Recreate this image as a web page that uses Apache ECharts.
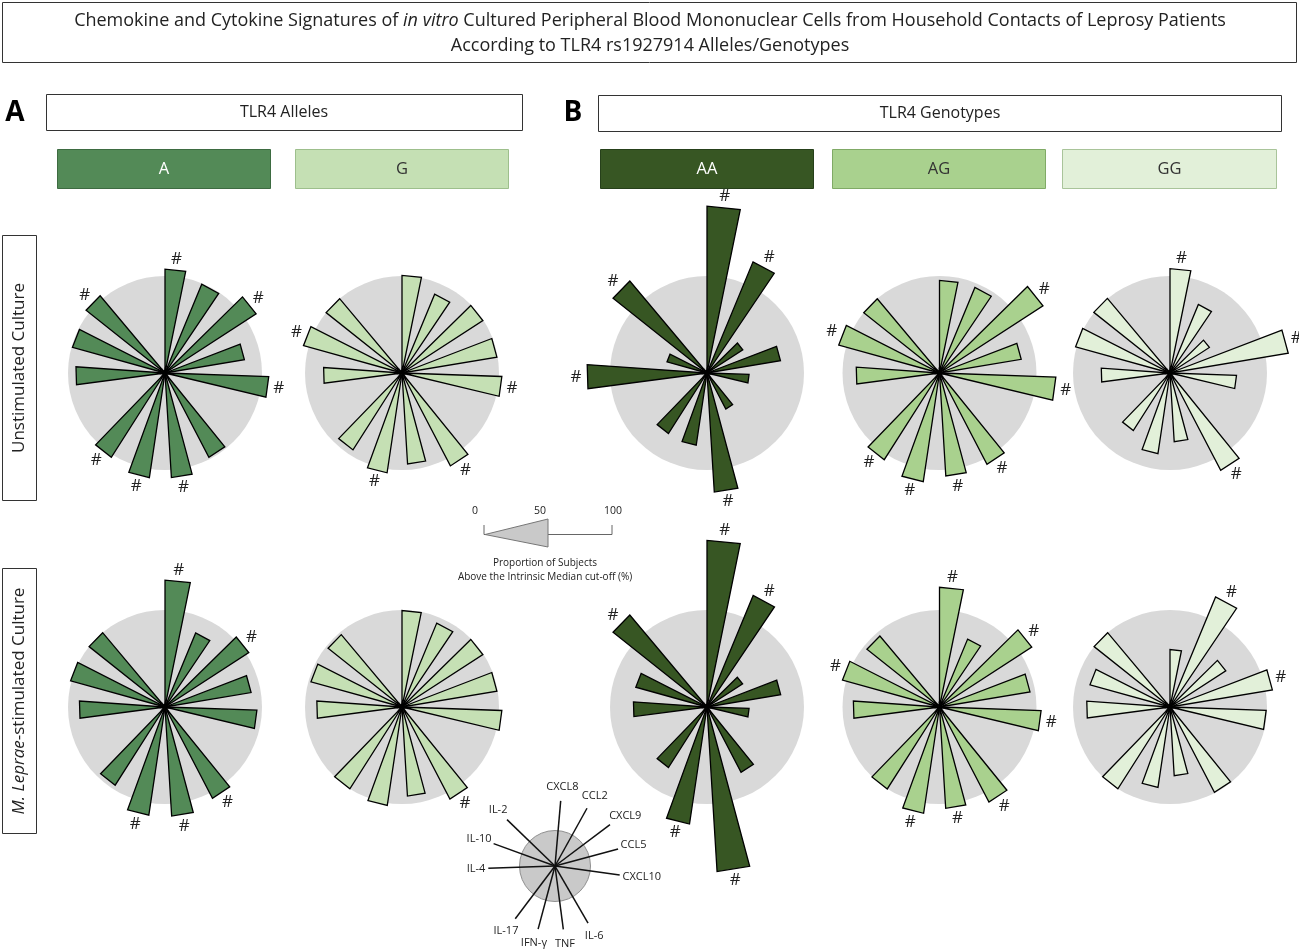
<!DOCTYPE html>
<html>
<head>
<meta charset="utf-8">
<script src="https://cdn.jsdelivr.net/npm/echarts@6/dist/echarts.min.js"></script>
<style>
  html, body { margin: 0; padding: 0; background: #fff; }
  #main { width: 1299px; height: 950px; }
</style>
</head>
<body>
<div id="main"></div>
<script>
// ---------------- DATA ----------------
const markers = ['CXCL8', 'CCL2', 'CXCL9', 'CCL5', 'CXCL10', 'IL-6', 'TNF', 'IFN-γ', 'IL-17', 'IL-4', 'IL-10', 'IL-2'];
// start angle (deg, clockwise from north) of each wedge
const wedgeStart = [0, 22.5, 45.5, 69, 92, 141, 165, 188.5, 212.5, 262.5, 285.5, 308.5];
const cutoff = 50;   // grey circle = 50 %

// Proportion of subjects above the intrinsic median cut-off (%)
const unstimA  = [53.5, 49.5, 56, 41.5, 53.5, 49, 54, 54.5, 51.5, 46, 49.5, 52];
const unstimG  = [50.3, 44, 49.7, 49.6, 51.5, 54, 47, 52, 47, 40.5, 52.7, 50];
const unstimAA = [86, 62, 22, 38.4, 21.7, 21, 61.5, 37.6, 37, 61.9, 21.4, 61.9];
const unstimAG = [47.7, 47.7, 63.6, 42.7, 60, 53, 53.2, 56.6, 53, 43, 53.9, 49.9];
const unstimGG = [53.8, 38.2, 24.2, 61.8, 34.3, 56.6, 35.5, 42, 35.2, 35.5, 50.5, 50.2];
const mlepA  = [65.4, 41.3, 51.5, 45, 47.4, 53, 56.3, 56.4, 47.8, 44.2, 50.5, 50];
const mlepG  = [49.7, 46.8, 49.7, 49.6, 51.5, 53.5, 46, 51.3, 50, 44, 48.7, 48.7];
const mlepAA = [85.9, 62.2, 21.9, 38.5, 21.7, 38, 85, 61, 37, 38, 38.1, 61.9];
const mlepAG = [61.7, 37.9, 56.7, 47.3, 52.4, 55.2, 52.3, 55.4, 50.1, 44.5, 51.9, 47.8];
const mlepGG = [29.6, 61.4, 34.3, 53.5, 49.6, 49.6, 35.5, 41.9, 50, 43, 42.8, 50];

// significance marks (#)
const unstimAHash  = [1,0,1,0,1,0,1,1,1,0,0,1];
const unstimGHash  = [0,0,0,0,1,1,0,1,0,0,1,0];
const unstimAAHash = [1,1,0,0,0,0,1,0,0,1,0,1];
const unstimAGHash = [0,0,1,0,1,1,1,1,1,0,1,0];
const unstimGGHash = [1,0,0,1,0,1,0,0,0,0,0,0];
const mlepAHash  = [1,0,1,0,0,1,1,1,0,0,0,0];
const mlepGHash  = [0,0,0,0,0,1,0,0,0,0,0,0];
const mlepAAHash = [1,1,0,0,0,0,1,1,0,0,0,1];
const mlepAGHash = [1,0,1,0,1,1,1,1,0,0,1,0];
const mlepGGHash = [0,1,0,1,0,0,0,0,0,0,0,0];

// key (legend) spokes
const keyAngle  = [5, 29, 53, 75, 98, 150, 172.5, 195, 217, 268, 290, 314];
const keyLength = [92, 93, 97, 92, 92, 93, 90, 92, 93, 94, 92, 94];

const groupLabels = ['A', 'G', 'AA', 'AG', 'GG'];
const scaleTicks = ['0', '50', '100'];

// ---------------- STYLE ----------------
const FONT = '"Open Sans", "DejaVu Sans", sans-serif';
const WEDGE = 11.5;
const R = 194;        // pixel radius for 100 %
const colors = { A: '#538a57', G: '#c5e0b4', AA: '#375623', AG: '#a9d18e', GG: '#e2f0d9' };
const borders = { A: '#3d6b41', G: '#9dbf8c', AA: '#26401a', AG: '#80aa66', GG: '#a9c49a' };
const textColors = { A: '#fff', G: '#333', AA: '#fff', AG: '#333', GG: '#333' };
const colX = [165, 402, 707, 939.5, 1170];
const rowY = [373, 707];

const charts = [
  { g: 'A',  row: 0, col: 0, v: unstimA,  h: unstimAHash },
  { g: 'G',  row: 0, col: 1, v: unstimG,  h: unstimGHash },
  { g: 'AA', row: 0, col: 2, v: unstimAA, h: unstimAAHash },
  { g: 'AG', row: 0, col: 3, v: unstimAG, h: unstimAGHash },
  { g: 'GG', row: 0, col: 4, v: unstimGG, h: unstimGGHash },
  { g: 'A',  row: 1, col: 0, v: mlepA,  h: mlepAHash },
  { g: 'G',  row: 1, col: 1, v: mlepG,  h: mlepGHash },
  { g: 'AA', row: 1, col: 2, v: mlepAA, h: mlepAAHash },
  { g: 'AG', row: 1, col: 3, v: mlepAG, h: mlepAGHash },
  { g: 'GG', row: 1, col: 4, v: mlepGG, h: mlepGGHash }
];

const measureCtx = document.createElement('canvas').getContext('2d');
function textWidth(str, size) {
  measureCtx.font = size + 'px ' + FONT;
  return measureCtx.measureText(str).width;
}

const polar = [], angleAxis = [], radiusAxis = [], series = [];

function circleRenderer(fill, stroke) {
  return function (params, api) {
    const c = api.coord([0, 0]);
    const e = api.coord([api.value(0), 0]);
    const r = Math.hypot(e[0] - c[0], e[1] - c[1]);
    return { type: 'circle', shape: { cx: c[0], cy: c[1], r: r },
             style: { fill: fill, stroke: stroke || null, lineWidth: stroke ? 1 : 0 } };
  };
}

function wedgeRenderer(fill) {
  return function (params, api) {
    const v = api.value(0), a = api.value(1), h = api.value(2);
    const c = api.coord([0, a]);
    const p1 = api.coord([v, a]);
    const p2 = api.coord([v, a + WEDGE]);
    const children = [{
      type: 'polygon', shape: { points: [c, p1, p2] },
      style: { fill: fill, stroke: '#000', lineWidth: 1.3, lineJoin: 'miter', miterLimit: 10 }
    }];
    if (h) {
      const pm = api.coord([v, a + WEDGE / 2]);
      const dx = pm[0] - c[0], dy = pm[1] - c[1];
      const L = Math.hypot(dx, dy) || 1;
      children.push({
        type: 'text', x: pm[0] + dx / L * 11, y: pm[1] + dy / L * 11,
        style: { text: '#', fill: '#222', fontSize: 17, fontFamily: FONT, align: 'center', verticalAlign: 'middle' }
      });
    }
    if (params.dataIndex === 0) {
      children.push({ type: 'circle', shape: { cx: c[0], cy: c[1], r: 3 }, style: { fill: '#000' } });
    }
    return { type: 'group', children: children };
  };
}

charts.forEach(function (ch, i) {
  polar.push({ center: [colX[ch.col], rowY[ch.row]], radius: R });
  angleAxis.push({ polarIndex: i, type: 'value', min: 0, max: 360, startAngle: 90, clockwise: true, show: false });
  radiusAxis.push({ polarIndex: i, type: 'value', min: 0, max: 100, show: false });
  series.push({ type: 'custom', coordinateSystem: 'polar', polarIndex: i, silent: true, z: 1,
                data: [[cutoff, 0]], renderItem: circleRenderer('#d9d9d9') });
  series.push({ type: 'custom', coordinateSystem: 'polar', polarIndex: i, silent: true, z: 2,
                data: ch.v.map(function (val, k) { return [val, wedgeStart[k], ch.h[k]]; }),
                renderItem: wedgeRenderer(colors[ch.g]) });
});

// key polar
const keyIdx = charts.length;
const KEYFONT = 11;
polar.push({ center: [555, 866], radius: 71 });
angleAxis.push({ polarIndex: keyIdx, type: 'value', min: 0, max: 360, startAngle: 90, clockwise: true, show: false });
radiusAxis.push({ polarIndex: keyIdx, type: 'value', min: 0, max: 100, show: false });
series.push({ type: 'custom', coordinateSystem: 'polar', polarIndex: keyIdx, silent: true, z: 1,
              data: [[cutoff, 0]], renderItem: circleRenderer('#c9c9c9', '#8f8f8f') });
series.push({
  type: 'custom', coordinateSystem: 'polar', polarIndex: keyIdx, silent: true, z: 2,
  data: keyLength.map(function (l, k) { return [l, keyAngle[k], k]; }),
  renderItem: function (params, api) {
    const l = api.value(0), a = api.value(1), k = api.value(2);
    const c = api.coord([0, a]);
    const e = api.coord([l, a]);
    const rad = a * Math.PI / 180;
    const sx = Math.sin(rad), sy = -Math.cos(rad);
    const w = textWidth(markers[k], KEYFONT), h = KEYFONT * 1.2;
    const tx = e[0] + sx * (w / 2 + 3);
    const ty = e[1] + sy * (h / 2 + 8);
    return { type: 'group', children: [
      { type: 'line', shape: { x1: c[0], y1: c[1], x2: e[0], y2: e[1] }, style: { stroke: '#111', lineWidth: 1.5 } },
      { type: 'text', x: tx, y: ty, style: { text: markers[k], fill: '#222', fontSize: KEYFONT, fontFamily: FONT, align: 'center', verticalAlign: 'middle' } }
    ] };
  }
});

// ---------------- DECORATION ----------------
const graphic = [];
function box(x, y, w, h, fill, stroke, lw) {
  graphic.push({ type: 'rect', shape: { x: x, y: y, width: w, height: h },
                 style: { fill: fill, stroke: stroke, lineWidth: lw || 1 }, z: 0 });
}
function text(x, y, str, opts) {
  const st = Object.assign({ text: str, fontFamily: FONT, fontSize: 16, fill: '#222', align: 'center', verticalAlign: 'middle' }, opts && opts.style);
  graphic.push(Object.assign({ type: 'text', x: x, y: y, style: st, z: 5 }, opts && opts.el));
}

// title
box(2.5, 2.5, 1294, 60, '#fff', '#333');
text(650, 33, '{n|Chemokine and Cytokine Signatures of }{i|in vitro}{n| Cultured Peripheral Blood Mononuclear Cells from Household Contacts of Leprosy Patients}\n{n|According to TLR4 rs1927914 Alleles/Genotypes}', {
  style: { rich: { n: { fontSize: 18, fontFamily: FONT, fill: '#222', lineHeight: 25 },
                   i: { fontSize: 18, fontFamily: FONT, fill: '#222', fontStyle: 'italic', lineHeight: 25 } } }
});

// panel letters
text(15, 113, 'A', { style: { fontSize: 28, fontWeight: 'bold', fill: '#000' } });
text(573, 113, 'B', { style: { fontSize: 28, fontWeight: 'bold', fill: '#000' } });

// section boxes
box(46.5, 94.5, 476, 36, '#fff', '#333');
text(284, 112, 'TLR4 Alleles');
box(598.5, 95.5, 683, 36, '#fff', '#333');
text(940, 113, 'TLR4 Genotypes');

// group header boxes
const hdrX = [57.5, 295.5, 600.5, 832.5, 1062.5];
const hdrW = [213, 213, 213, 213, 214];
groupLabels.forEach(function (g, i) {
  box(hdrX[i], 149.5, hdrW[i], 39, colors[g], borders[g]);
  text(hdrX[i] + hdrW[i] / 2, 169.5, g, { style: { fill: textColors[g], fontSize: 16.5 } });
});

// row label boxes
box(2.5, 235.5, 34, 265, '#fff', '#333');
text(19.5, 368, 'Unstimulated Culture', { el: { rotation: Math.PI / 2 }, style: { fontSize: 17 } });
box(2.5, 568.5, 34, 265, '#fff', '#333');
text(19.5, 701, '{i|M. Leprae}{n|-stimulated Culture}', { el: { rotation: Math.PI / 2 }, style: {
  rich: { n: { fontSize: 17, fontFamily: FONT, fill: '#222' }, i: { fontSize: 17, fontFamily: FONT, fill: '#222', fontStyle: 'italic' } } } });

// scale legend
graphic.push({ type: 'polyline', shape: { points: [[484, 525], [484, 534.5], [612, 534.5], [612, 525]] },
               style: { stroke: '#666', lineWidth: 1, fill: null }, z: 4 });
graphic.push({ type: 'polygon', shape: { points: [[485, 534.5], [548, 519], [548, 547]] },
               style: { fill: '#c9c9c9', stroke: '#777', lineWidth: 1 }, z: 5 });
text(475, 511, scaleTicks[0], { style: { fontSize: 10.5 } });
text(540, 511, scaleTicks[1], { style: { fontSize: 10.5 } });
text(613, 511, scaleTicks[2], { style: { fontSize: 10.5 } });
text(545, 563.5, 'Proportion of Subjects', { style: { fontSize: 10 } });
text(545, 577, 'Above the Intrinsic Median cut-off (%)', { style: { fontSize: 10 } });

const chart = echarts.init(document.getElementById('main'), null, { renderer: 'canvas' });
chart.setOption({
  backgroundColor: '#fff',
  animation: false,
  polar: polar,
  angleAxis: angleAxis,
  radiusAxis: radiusAxis,
  series: series,
  graphic: graphic
});
</script>
</body>
</html>
